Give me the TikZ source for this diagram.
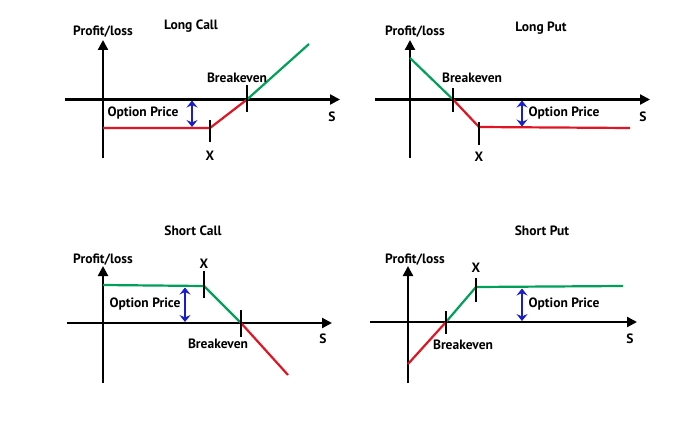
\documentclass[tikz,border=0pt]{standalone}
\usepackage{fontspec}
\setmainfont{PT Sans}
\usetikzlibrary{arrows.meta}
\definecolor{gainc}{RGB}{0,160,90}
\definecolor{lossc}{RGB}{225,20,35}
\definecolor{pricec}{RGB}{25,30,200}
\begin{document}
\begin{tikzpicture}[x=1pt,y=-1pt,
  axis/.style={line width=2.2pt,-{Triangle[length=10pt,width=10pt]}},
  tickmark/.style={line width=1.4pt},
  gain/.style={line width=2.2pt,gainc},
  loss/.style={line width=2.2pt,lossc},
  price/.style={line width=2.4pt,pricec,{Stealth[length=7pt,width=11pt,inset=2.5pt]}-{Stealth[length=7pt,width=11pt,inset=2.5pt]}},
  lbl/.style={font=\bfseries\fontsize{13.5}{15}\selectfont,inner sep=0pt},
  ttl/.style={font=\bfseries\fontsize{13.5}{15}\selectfont,inner sep=0pt}]
\useasboundingbox[fill=white] (0,0) rectangle (687,420);

% ---------- Long Call ----------
\coordinate (a1y0) at (103,158); \coordinate (a1y1) at (103,40);
\coordinate (a1x0) at (65,99.5); \coordinate (a1x1) at (340,99.5);
\draw[axis] (a1y0) -- (a1y1);
\draw[axis] (a1x0) -- (a1x1);
\coordinate (a1p0) at (103,128); \coordinate (a1X) at (210,128);
\coordinate (a1B) at (247,99.5); \coordinate (a1e) at (309,44);
\draw[loss] (a1p0) -- (a1X) -- (a1B);
\draw[gain] (a1B) -- (a1e);
\draw[tickmark] (210,120) coordinate (a1t0) -- (210,142) coordinate (a1t1);
\draw[tickmark] (247,85) coordinate (a1b0) -- (247,112) coordinate (a1b1);
\coordinate (a1u) at (192,100.5); \coordinate (a1d) at (192,127);
\draw[price] (a1u) -- (a1d);
\node[lbl] (a1pl) at (103,32) {Profit/loss};
\node[ttl] (a1tt) at (191,26) {Long Call};
\node[lbl] (a1bk) at (237,78) {Breakeven};
\node[lbl] (a1op) at (143,113) {Option Price};
\node[lbl] (a1xl) at (210,156) {X};
\node[lbl] (a1s) at (332,117) {S};

% ---------- Long Put ----------
\coordinate (a2y0) at (410,158); \coordinate (a2y1) at (410,40);
\coordinate (a2x0) at (375,99.5); \coordinate (a2x1) at (650,99.5);
\draw[axis] (a2y0) -- (a2y1);
\draw[axis] (a2x0) -- (a2x1);
\coordinate (a2s0) at (410,58); \coordinate (a2B) at (453,99.5);
\coordinate (a2X) at (479,127); \coordinate (a2e) at (630,128);
\draw[gain] (a2s0) -- (a2B);
\draw[loss] (a2B) -- (a2X) -- (a2e);
\draw[tickmark] (453,88) coordinate (a2b0) -- (453,112) coordinate (a2b1);
\draw[tickmark] (479,122) coordinate (a2t0) -- (479,145) coordinate (a2t1);
\coordinate (a2u) at (522,100.5); \coordinate (a2d) at (522,126.5);
\draw[price] (a2u) -- (a2d);
\node[lbl] (a2pl) at (415,32) {Profit/loss};
\node[ttl] (a2tt) at (541,28) {Long Put};
\node[lbl] (a2bk) at (472,78) {Breakeven};
\node[lbl] (a2op) at (564,113) {Option Price};
\node[lbl] (a2xl) at (479,157) {X};
\node[lbl] (a2s) at (643,117) {S};

% ---------- Short Call ----------
\coordinate (a3y0) at (103,383); \coordinate (a3y1) at (103,266);
\coordinate (a3x0) at (67,323); \coordinate (a3x1) at (332,323);
\draw[axis] (a3y0) -- (a3y1);
\draw[axis] (a3x0) -- (a3x1);
\coordinate (a3p0) at (103,285); \coordinate (a3X) at (204,286);
\coordinate (a3B) at (241,323); \coordinate (a3e) at (288,375);
\draw[gain] (a3p0) -- (a3X) -- (a3B);
\draw[loss] (a3B) -- (a3e);
\draw[tickmark] (204,271) coordinate (a3t0) -- (204,298) coordinate (a3t1);
\draw[tickmark] (241,310) coordinate (a3b0) -- (241,337) coordinate (a3b1);
\coordinate (a3u) at (185,287.5); \coordinate (a3d) at (185,322);
\draw[price] (a3u) -- (a3d);
\node[lbl] (a3pl) at (103,260) {Profit/loss};
\node[ttl] (a3tt) at (193,231) {Short Call};
\node[lbl] (a3bk) at (218,344) {Breakeven};
\node[lbl] (a3op) at (145,304) {Option Price};
\node[lbl] (a3xl) at (204,264) {X};
\node[lbl] (a3s) at (323,339) {S};

% ---------- Short Put ----------
\coordinate (a4y0) at (408,383); \coordinate (a4y1) at (408,266);
\coordinate (a4x0) at (370,322); \coordinate (a4x1) at (637,322);
\draw[axis] (a4y0) -- (a4y1);
\draw[axis] (a4x0) -- (a4x1);
\coordinate (a4s0) at (408,364); \coordinate (a4B) at (446,322);
\coordinate (a4X) at (476,287); \coordinate (a4e) at (623,286);
\draw[loss] (a4s0) -- (a4B);
\draw[gain] (a4B) -- (a4X) -- (a4e);
\draw[tickmark] (446,311) coordinate (a4b0) -- (446,334) coordinate (a4b1);
\draw[tickmark] (476,278) coordinate (a4t0) -- (476,302) coordinate (a4t1);
\coordinate (a4u) at (522,288.5); \coordinate (a4d) at (522,321);
\draw[price] (a4u) -- (a4d);
\node[lbl] (a4pl) at (415,260) {Profit/loss};
\node[ttl] (a4tt) at (542,231) {Short Put};
\node[lbl] (a4bk) at (463,345) {Breakeven};
\node[lbl] (a4op) at (564,304) {Option Price};
\node[lbl] (a4xl) at (476,268) {X};
\node[lbl] (a4s) at (630,339) {S};
\end{tikzpicture}
\end{document}
